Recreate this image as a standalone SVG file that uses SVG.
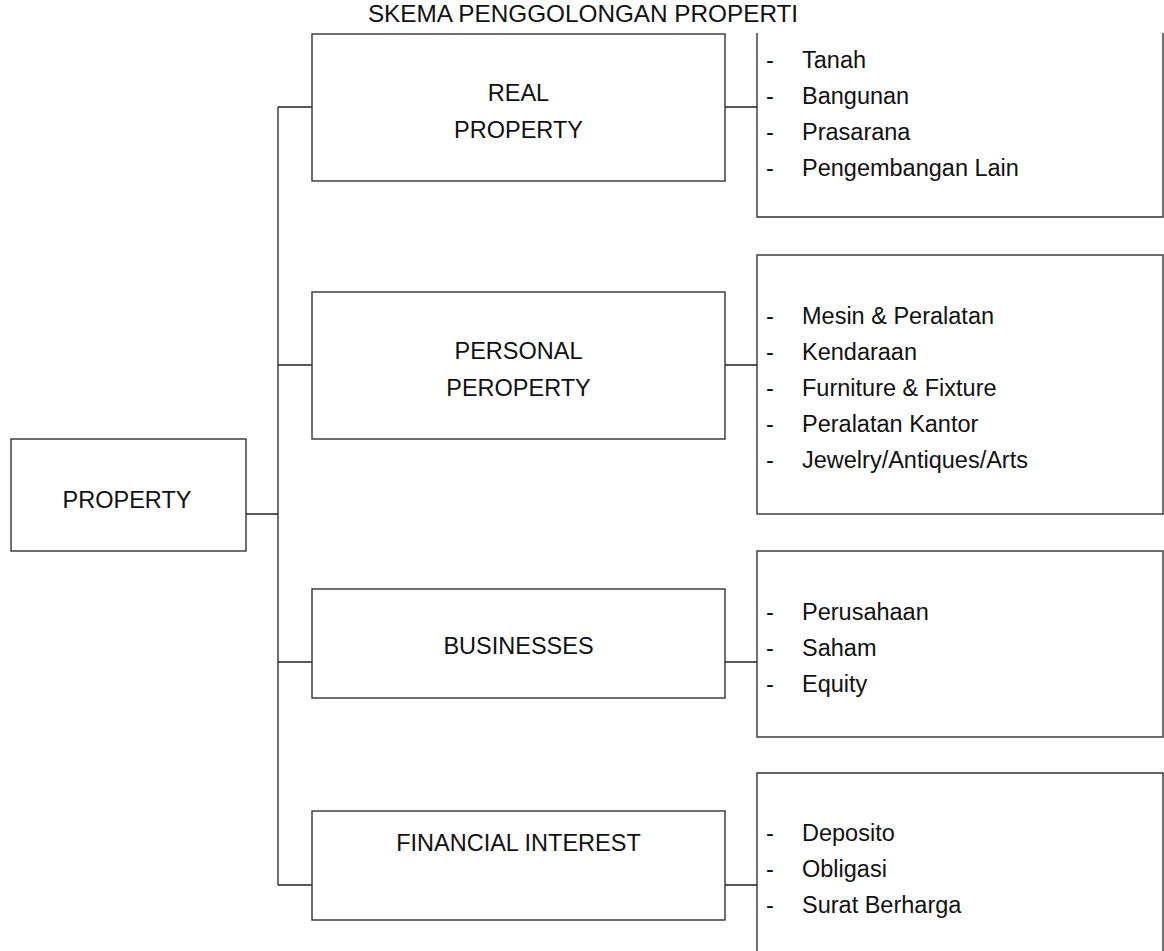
<svg xmlns="http://www.w3.org/2000/svg" width="1164" height="951" viewBox="0 0 1164 951">
<style>
.bx{fill:none;stroke:#333;stroke-width:1.4}
.ln{fill:none;stroke:#222;stroke-width:1.3}
text{font-family:"Liberation Sans",Arial,sans-serif;font-size:23.5px;fill:#111}
.c{text-anchor:middle}
#title{font-size:24.3px}
</style>
<rect width="1164" height="951" fill="#fff"/>
<text id="title" class="c" x="583" y="22">SKEMA PENGGOLONGAN PROPERTI</text>
<g id="connectors">
<path class="ln" d="M246 514H278M278 107V885M278 107H312M278 365H312M278 662H312M278 885H312M725 107H757M725 365H757M725 662H757M725 885H757"/>
</g>
<g id="property"><rect class="bx" x="11" y="439" width="235" height="112"/><text class="c" x="127" y="508">PROPERTY</text></g>
<g id="real"><rect class="bx" x="312" y="34" width="413" height="147"/><text class="c" x="518.5" y="101">REAL</text><text class="c" x="518.5" y="138">PROPERTY</text></g>
<g id="personal"><rect class="bx" x="312" y="292" width="413" height="147"/><text class="c" x="518.5" y="359">PERSONAL</text><text class="c" x="518.5" y="396">PEROPERTY</text></g>
<g id="businesses"><rect class="bx" x="312" y="589" width="413" height="109"/><text class="c" x="518.5" y="654">BUSINESSES</text></g>
<g id="financial"><rect class="bx" x="312" y="811" width="413" height="109"/><text class="c" x="518.5" y="851">FINANCIAL INTEREST</text></g>
<g id="list-real"><path class="bx" d="M757 33V217H1163V33"/>
<text x="766" y="68">-</text><text x="802" y="68">Tanah</text>
<text x="766" y="104">-</text><text x="802" y="104">Bangunan</text>
<text x="766" y="140">-</text><text x="802" y="140">Prasarana</text>
<text x="766" y="176">-</text><text x="802" y="176">Pengembangan Lain</text></g>
<g id="list-personal"><rect class="bx" x="757" y="255" width="406" height="259"/>
<text x="766" y="324">-</text><text x="802" y="324">Mesin &amp; Peralatan</text>
<text x="766" y="360">-</text><text x="802" y="360">Kendaraan</text>
<text x="766" y="396">-</text><text x="802" y="396">Furniture &amp; Fixture</text>
<text x="766" y="432">-</text><text x="802" y="432">Peralatan Kantor</text>
<text x="766" y="468">-</text><text x="802" y="468">Jewelry/Antiques/Arts</text></g>
<g id="list-businesses"><rect class="bx" x="757" y="551" width="406" height="186"/>
<text x="766" y="620">-</text><text x="802" y="620">Perusahaan</text>
<text x="766" y="656">-</text><text x="802" y="656">Saham</text>
<text x="766" y="692">-</text><text x="802" y="692">Equity</text></g>
<g id="list-financial"><path class="bx" d="M757 951V773H1163V951"/>
<text x="766" y="841">-</text><text x="802" y="841">Deposito</text>
<text x="766" y="877">-</text><text x="802" y="877">Obligasi</text>
<text x="766" y="913">-</text><text x="802" y="913">Surat Berharga</text></g>
</svg>
